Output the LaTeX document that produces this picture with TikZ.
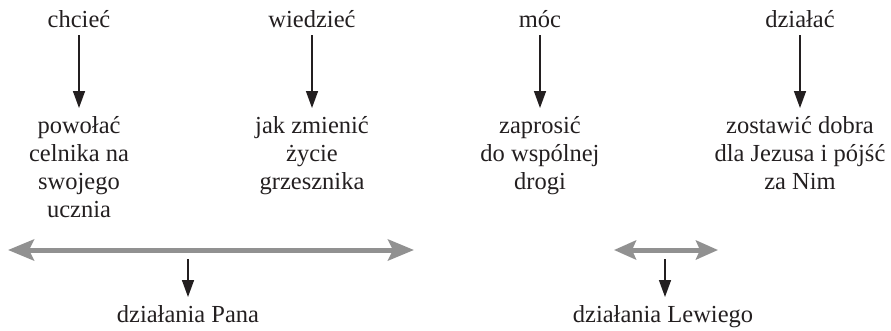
\documentclass[tikz,border=0pt]{standalone}
\usepackage{fontspec}
\setmainfont{Liberation Serif}
\usetikzlibrary{arrows.meta}
\definecolor{arrgray}{RGB}{145,145,145}
\definecolor{txt}{RGB}{35,31,32}
\tikzset{
  lbl/.style={font=\fontsize{24.5}{28}\selectfont, text=txt, align=center, inner sep=0pt},
  down/.style={draw=txt, line width=1.5pt, -{Triangle[length=17pt,width=12pt]}},
  wide/.style={draw=arrgray, line width=5pt, {Stealth[length=26pt,width=21pt,inset=5pt]}-{Stealth[length=26pt,width=21pt,inset=5pt]}}
}
\begin{document}
\begin{tikzpicture}[x=1pt,y=-1pt]
\useasboundingbox (0,0) rectangle (891,330);
% top words
\node[lbl, anchor=base] (w1) at (79,27) {chcieć};
\node[lbl, anchor=base] (w2) at (312,27) {wiedzieć};
\node[lbl, anchor=base] (w3) at (540,27) {móc};
\node[lbl, anchor=base] (w4) at (800,27) {działać};
% targets
\node[lbl, anchor=north] (t1) at (79,116) {powołać\\celnika na\\swojego\\ucznia};
\node[lbl, anchor=north] (t2) at (312,116) {jak zmienić\\życie\\grzesznika};
\node[lbl, anchor=north] (t3) at (540,116) {zaprosić\\do wspólnej\\drogi};
\node[lbl, anchor=north] (t4) at (800,116) {zostawić dobra\\dla Jezusa i pójść\\za Nim};
% vertical arrows
\coordinate (a1s) at (79,35); \coordinate (a1e) at (79,108);
\coordinate (a2s) at (312,35); \coordinate (a2e) at (312,108);
\coordinate (a3s) at (540,35); \coordinate (a3e) at (540,108);
\coordinate (a4s) at (800,35); \coordinate (a4e) at (800,108);
\draw[down] (a1s) -- (a1e);
\draw[down] (a2s) -- (a2e);
\draw[down] (a3s) -- (a3e);
\draw[down] (a4s) -- (a4e);
% gray double arrows
\coordinate (gL1) at (8,250); \coordinate (gR1) at (414,250);
\coordinate (gL2) at (614,250); \coordinate (gR2) at (718,250);
\draw[wide] (gL1) -- (gR1);
\draw[wide, {Stealth[length=22pt,width=19pt,inset=4pt]}-{Stealth[length=22pt,width=19pt,inset=4pt]}] (gL2) -- (gR2);
% bottom labels
\node[lbl, anchor=base] (b1) at (188,322) {działania Pana};
\node[lbl, anchor=base] (b2) at (663,322) {działania Lewiego};
\coordinate (s1) at (188,259); \coordinate (s1e) at (188,297);
\coordinate (s2) at (665,259); \coordinate (s2e) at (665,297);
\draw[down] (s1) -- (s1e);
\draw[down] (s2) -- (s2e);
\end{tikzpicture}
\end{document}
